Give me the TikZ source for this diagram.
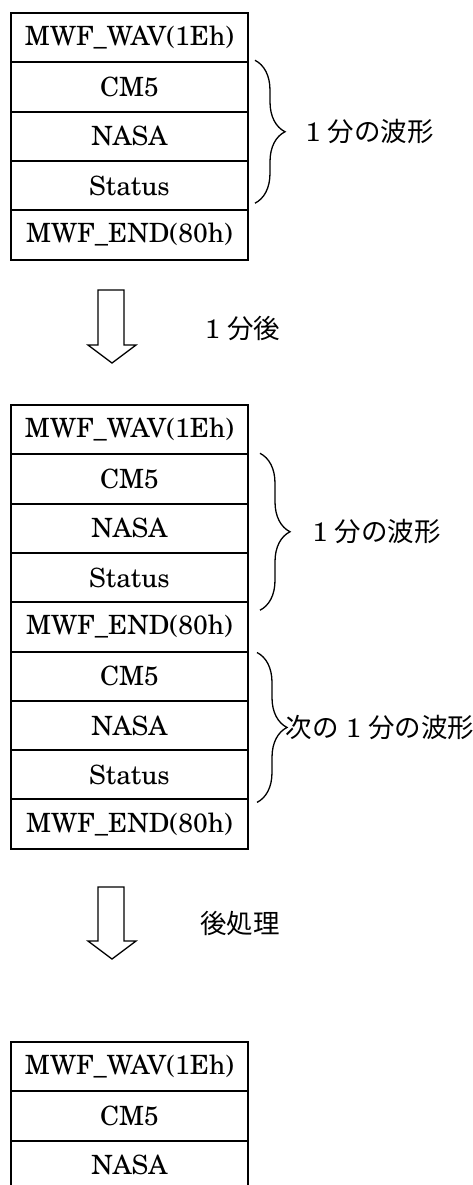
\documentclass[tikz,border=0pt]{standalone}
\usepackage{fontspec}
\setmainfont{texgyreschola-regular.otf}
\newfontfamily\cjk{Noto Sans CJK JP}
\usetikzlibrary{positioning, decorations.pathreplacing}

\begin{document}
\begin{tikzpicture}[x=1pt, y=-1pt,
    cell/.style={draw, line width=2pt, outer sep=0pt, inner sep=0pt,
      minimum width=237pt, minimum height=49.3pt, font=\fontsize{26.5}{30}\selectfont},
    wave/.style={decorate, decoration={brace, amplitude=30pt}, line width=1.3pt},
    note/.style={inner sep=0pt, anchor=west, font=\fontsize{26.5}{30}\selectfont},
    hollow/.style={draw, line width=1.3pt, line join=miter}]
  \useasboundingbox (0,0) rectangle (473,1185);
  \clip (0,0) rectangle (473,1185);

  % first record
  \node[cell] (w1) at (129.5,37.65) {MWF\_WAV(1Eh)};
  \node[cell, below=0pt of w1] (c1) {CM5};
  \node[cell, below=0pt of c1] (n1) {NASA};
  \node[cell, below=0pt of n1] (s1) {Status};
  \node[cell, below=0pt of s1] (e1) {MWF\_END(80h)};

  \draw[wave] ([xshift=7pt,yshift=2pt]c1.north east) -- node[note, xshift=50pt] {1 {\cjk 分の波形}} ([xshift=7pt,yshift=7pt]s1.south east);

  \draw[hollow] (98,290) -- (124,290) -- (124,345) -- (136,345) -- (112,363) -- (88,345) -- (98,345) -- cycle;
  \node[note] (t1) at (205,328) {1 {\cjk 分後}};

  % two records
  \node[cell] (w2) at (129.5,429.65) {MWF\_WAV(1Eh)};
  \node[cell, below=0pt of w2] (c2) {CM5};
  \node[cell, below=0pt of c2] (n2) {NASA};
  \node[cell, below=0pt of n2] (s2) {Status};
  \node[cell, below=0pt of s2] (e2) {MWF\_END(80h)};
  \node[cell, below=0pt of e2] (c3) {CM5};
  \node[cell, below=0pt of c3] (n3) {NASA};
  \node[cell, below=0pt of n3] (s3) {Status};
  \node[cell, below=0pt of s3] (e3) {MWF\_END(80h)};

  \draw[wave] ([xshift=12pt,yshift=1pt]c2.north east) -- node[note, xshift=52pt] {1 {\cjk 分の波形}} ([xshift=12pt,yshift=-8pt]s2.south east);
  \draw[wave] ([xshift=9pt,yshift=-1pt]c3.north east) -- node[note, xshift=28pt] {{\cjk 次の} 1 {\cjk 分の波形}} ([xshift=9pt,yshift=-3pt]s3.south east);

  \draw[hollow] (98,887) -- (124,887) -- (124,941) -- (136,941) -- (112,959) -- (88,941) -- (98,941) -- cycle;
  \node[note] (t2) at (200,923) {{\cjk 後処理}};

  % after post-processing
  \node[cell] (w4) at (129.5,1066.65) {MWF\_WAV(1Eh)};
  \node[cell, below=0pt of w4] (c4) {CM5};
  \node[cell, below=0pt of c4] (n4) {NASA};
\end{tikzpicture}
\end{document}
